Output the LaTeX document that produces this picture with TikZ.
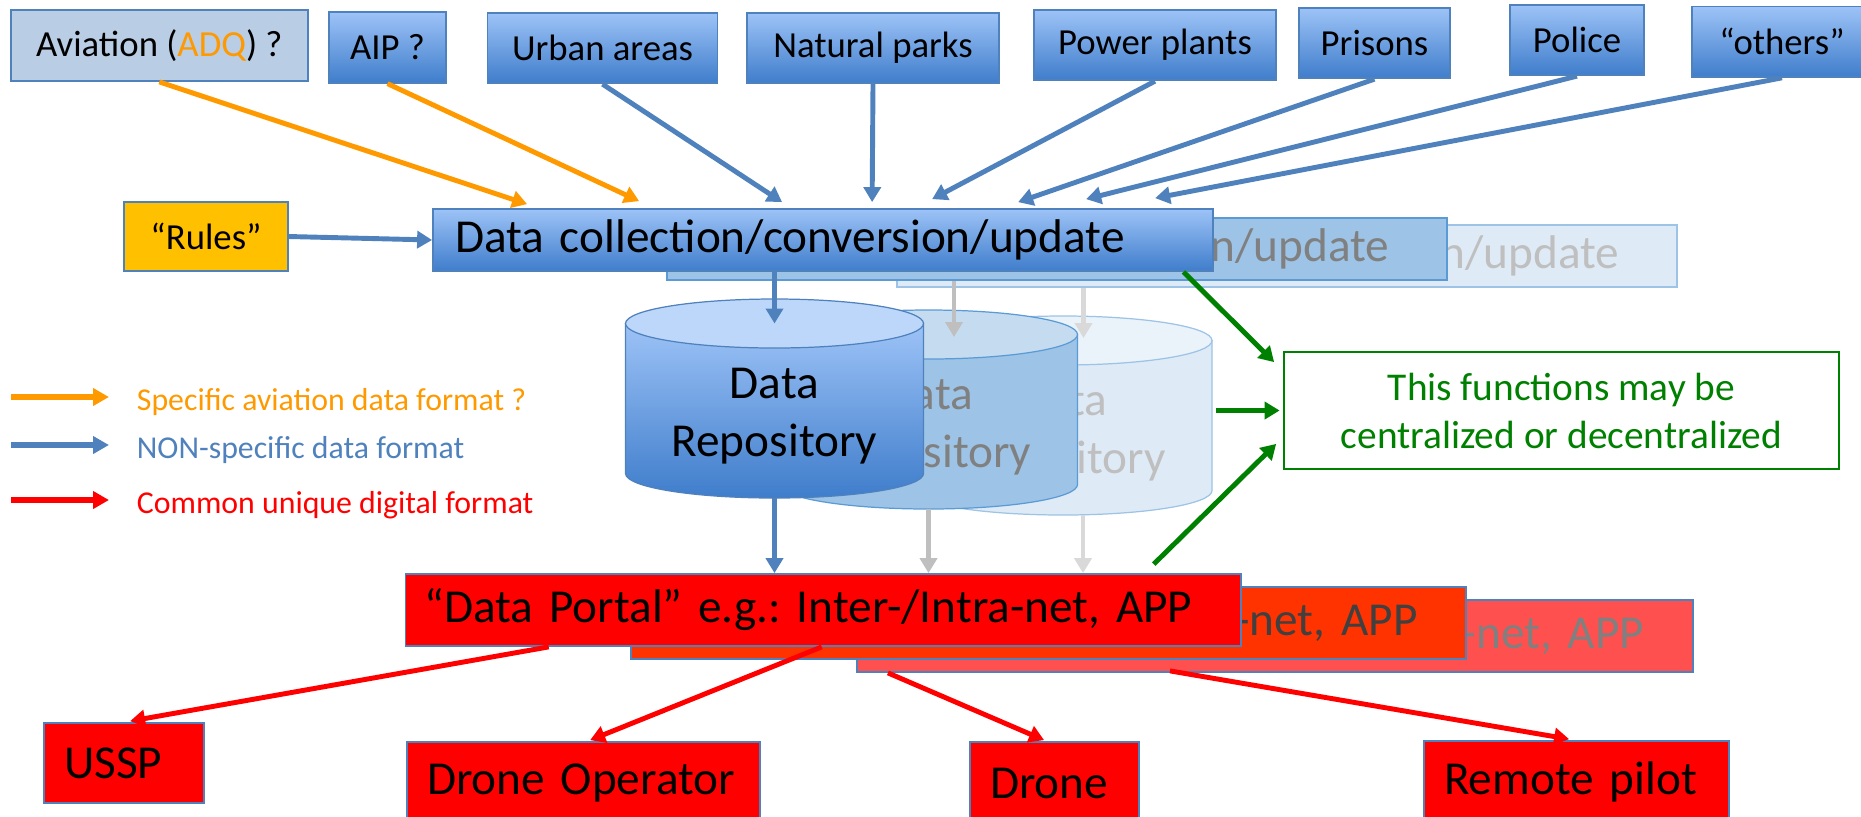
\documentclass[tikz,border=0pt]{standalone}
\usepackage{fontspec}
\setmainfont{Carlito}
\frenchspacing
\usetikzlibrary{arrows.meta,calc}

\definecolor{edge}{RGB}{79,129,189}
\definecolor{gradtop}{RGB}{157,195,247}
\definecolor{gradbot}{RGB}{63,125,203}
\definecolor{maincap}{RGB}{189,215,250}
\definecolor{paleblue}{RGB}{185,205,229}
\definecolor{amber}{RGB}{255,192,0}
\definecolor{orangeline}{RGB}{255,153,0}
\definecolor{blueline}{RGB}{79,129,189}
\definecolor{midfill}{RGB}{157,195,230}
\definecolor{midcap}{RGB}{197,220,240}
\definecolor{midedge}{RGB}{91,155,213}
\definecolor{midtext}{RGB}{128,128,128}
\definecolor{darktext}{RGB}{64,64,64}
\definecolor{lightfill}{RGB}{222,235,247}
\definecolor{lightcap}{RGB}{234,242,250}
\definecolor{lightedge}{RGB}{157,195,230}
\definecolor{lighttext}{RGB}{191,191,191}
\definecolor{portalmid}{RGB}{255,51,0}
\definecolor{portallight}{RGB}{255,80,80}
\definecolor{notegreen}{RGB}{0,128,0}
\definecolor{grayA}{RGB}{191,191,191}
\definecolor{grayB}{RGB}{217,217,217}

\begin{document}
\begin{tikzpicture}[x=0.02cm, y=-0.02cm,
  dims/.style 2 args={minimum width=#1*0.02cm, minimum height=#2*0.02cm},
  srcbox/.style={draw=edge, line width=1pt, inner sep=0pt, font=\fontsize{20.9}{25}\selectfont},
  srcgrad/.style={srcbox, top color=gradtop, bottom color=gradbot},
  layer/.style={dims={780}{62}, line width=1pt, inner sep=0pt, font=\fontsize{26.9}{33}\selectfont},
  portal/.style={dims={835.4}{72}, draw=edge, line width=1pt, inner xsep=0.38cm, inner ysep=0pt,
    text width=15.95cm, align=left, font=\fontsize{26.9}{33}\selectfont},
  target/.style={draw=edge, fill=red, line width=1pt, inner xsep=0.4cm, inner ysep=0pt,
    align=left, font=\fontsize{26.9}{33}\selectfont},
  repotext/.style={align=center, inner sep=0pt, font=\fontsize{26.9}{33}\selectfont},
  keytext/.style={inner sep=0pt, font=\fontsize{18.1}{22}\selectfont},
  flow/.style={line width=2.8pt, -{Triangle[length=0.3cm, width=0.34cm]}},
  keyflow/.style={line width=2.9pt, -{Triangle[length=0.32cm, width=0.34cm]}},
  ]
\useasboundingbox (0,0) rectangle (1861,816);

% sources
\node[srcbox, fill=paleblue, dims={297}{71}] (avi) at (159.3,45.5) {Aviation (\textcolor{orangeline}{ADQ}) ?};
\foreach \n/\cx/\cy/\w/\txt in {aip/387.5/47.5/117/AIP ?, urban/602.5/48/230/Urban areas,
    natural/873/48/252.5/Natural parks, power/1155/45/242/Power plants, prisons/1374.5/43/151/Prisons,
    police/1577/40/134/Police, others/1782/41.7/180/“others”}
  \node[srcgrad, dims={\w}{70.5}] (\n) at (\cx,\cy) {\txt};
\node[srcbox, fill=amber, dims={163.5}{69}] (rules) at (206,236.5) {“Rules”};

% collection layers, back to front
\foreach \n/\dx/\dy/\fc/\lc/\tc in {dcC/464/16/lightfill/lightedge/lighttext, dcB/234/9/midfill/midedge/midtext}
  \node[layer, fill=\fc, draw=\lc, text=\tc] (\n) at (823+\dx,240+\dy) {Data collection/conversion/update};
\node[layer, draw=edge, top color=gradtop, bottom color=gradbot, inner xsep=0.44cm, text width=14.72cm,
  align=left] (dcA) at (823,240) {Data collection/conversion/update};

% repositories
\foreach \n/\dx/\dy/\bt/\bb/\cp/\lc/\tc in {repoC/288.5/17/lightfill/lightfill/lightcap/lightedge/lighttext,
    repoB/154/11/midfill/midfill/midcap/midedge/midtext, repoA/0/0/gradtop/gradbot/maincap/edge/black} {
  \coordinate (\n-top) at (774.5+\dx,323.5+\dy);
  \coordinate (\n-bot) at (774.5+\dx,498+\dy);
  \path[draw=\lc, line width=0.7pt, top color=\bt, bottom color=\bb] ([xshift=-2.98cm]\n-top) -- ++(0,150)
    arc[start angle=180, end angle=0, x radius=149, y radius=24.5] -- ++(0,-150) -- cycle;
  \draw[\lc, line width=0.7pt, fill=\cp] (\n-top) ellipse [x radius=149, y radius=24.5];
  \node[repotext, text=\tc] (\n) at (774.5+\dx,416+\dy) {Data\\Repository};
}

% portal layers
\foreach \n/\dx/\dy/\fc/\tc in {portalC/451.7/26/portallight/midtext, portalB/225.2/13/portalmid/darktext}
  \node[portal, fill=\fc, text=\tc] (\n) at (823.3+\dx,610+\dy) {“Data Portal” e.g.: Inter-/Intra-net, APP};
\node[portal, fill=red] (portalA) at (823.3,610) {“Data Portal” e.g.: Inter-/Intra-net, APP};

\node[target, dims={160}{80}, text width=2.4cm] (ussp) at (124,763) {USSP};
\node[target, dims={353}{82}, text width=6.26cm] (dronop) at (583.5,783) {Drone Operator};
\node[target, dims={169}{82}, text width=2.58cm] (drone) at (1054.5,783) {Drone};
\node[target, dims={305}{82}, text width=5.3cm] (remote) at (1576.5,782) {Remote pilot};

\node[draw=notegreen, line width=1pt, text=notegreen, align=center, inner sep=0pt, dims={555}{117},
  font=\fontsize{22.4}{27.3}\selectfont] (note) at (1561.5,410.5) {This functions may be\\centralized or decentralized};

% legend
\foreach \n/\col/\y/\txt in {spec/orangeline/397/Specific aviation data format ?,
    nonspec/blueline/445/NON-specific data format, common/red/500/Common unique digital format} {
  \coordinate (\n-a) at (11,\y);
  \coordinate (\n-b) at (109,\y);
  \node[keytext, text=\col, anchor=base west] (\n) at (136.6,\y+13) {\txt};
  \draw[keyflow, \col] (\n-a) -- (\n-b);
}

% inputs
\draw[flow, orangeline] (avi.south) -- ($(dcA.north west)+(95,-4)$);
\draw[flow, orangeline] (aip.south) -- ($(dcA.north west)+(207,-7)$);
\foreach \n/\dx/\dy in {urban/350/6, natural/440/6, power/500/9, prisons/586/6, police/654/9, others/723/10}
  \draw[flow, blueline] (\n.south) -- ($(dcA.north west)+(\dx,-\dy)$);
\draw[flow, blueline] (rules.east) -- (dcA.west);

\coordinate (tipB) at ($(repoB-top)+(25.5,2.5)$);
\coordinate (tipC) at ($(repoC-top)+(20.5,-2.5)$);
\coordinate (outC) at ($(repoC-bot)+(20,0)$);
\draw[flow, blueline] (repoA-top |- dcA.south) -- (repoA-top);
\draw[flow, grayA, line width=2.4pt] (tipB |- dcB.south) -- (tipB);
\draw[flow, grayB, line width=2.4pt] (tipC |- dcC.south) -- (tipC);
\draw[flow, blueline] (repoA-bot) -- (repoA-bot |- portalA.north);
\draw[flow, grayA, line width=2.4pt] (repoB-bot) -- (repoB-bot |- portalA.north);
\draw[flow, grayB, line width=2.4pt] (outC) -- (outC |- portalA.north);

\draw[flow, notegreen] ($(dcA.south east)+(-30.5,0)$) -- ($(note.north west)+(-9,11)$);
\draw[flow, notegreen] ([xshift=-1.34cm]note.west) -- ([xshift=-0.07cm]note.west);
\draw[flow, notegreen] ($(portalA.north west)+(749,-9)$) -- ($(note.south west)+(-7,-26)$);

% outputs
\draw[flow, red] ($(portalA.south west)+(144,0)$) -- ($(ussp.north west)+(87,-1)$);
\draw[flow, red] ($(portalA.south west)+(417,0)$) -- ($(dronop.north west)+(184,-1)$);
\draw[flow, red] ($(portalC.south west)+(31.5,0)$) -- ($(drone.north west)+(75,-1)$);
\draw[flow, red] ($(portalC.south west)+(313.5,-2)$) -- ($(remote.north west)+(146,-1)$);
\end{tikzpicture}
\end{document}
